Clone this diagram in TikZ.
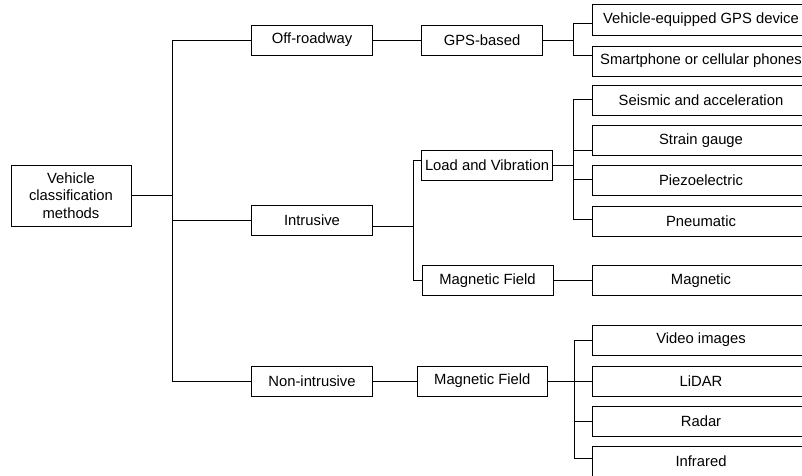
\documentclass[tikz,border=0pt]{standalone}
\usepackage{fontspec}
\setmainfont{Liberation Sans}
\usetikzlibrary{calc}

\begin{document}
\begin{tikzpicture}[x=1pt, y=-1pt, every node/.style={font=\fontsize{14.8}{17.5}\selectfont, align=center, inner sep=0pt},
  box/.style={draw, line width=0.9pt, minimum height=30pt},
  leaf/.style={box, minimum width=218pt},
  link/.style={line width=0.9pt}]
\useasboundingbox (0,0) rectangle (802,475);
\clip (0,0) rectangle (802,475);
% first levels
\node[box, minimum width=120pt, minimum height=61pt] (root) at (71,195.5) {Vehicle\\classification\\methods};
\node[box, minimum width=121pt] (off) at (312,40) {Off-roadway};
\node[box, minimum width=121pt] (intr) at (312,220) {Intrusive};
\node[box, minimum width=121pt] (nonintr) at (312,381) {Non-intrusive};
\node[box, minimum width=121pt] (gps) at (482,40) {GPS-based};
\node[box, minimum width=131pt] (lv) at (487,165.7) {Load and Vibration};
\node[box, minimum width=131pt] (mfi) at (487.5,280.7) {Magnetic Field};
\node[box, minimum width=130pt] (mfn) at (482.3,381) {Magnetic Field};
% sensor leaves
\node[leaf, minimum height=31pt] (veh) at (701,19.5) {Vehicle-equipped GPS device};
\node[leaf] (smart) at (701,61) {Smartphone or cellular phones};
\node[leaf] (seis) at (701,100) {Seismic and acceleration};
\node[leaf] (strain) at (701,140.5) {Strain gauge};
\node[leaf] (piezo) at (701,180) {Piezoelectric};
\node[leaf] (pneu) at (701,221) {Pneumatic};
\node[leaf] (mag) at (701,280.7) {Magnetic};
\node[leaf] (video) at (701,340) {Video images};
\node[leaf] (lidar) at (701,381) {LiDAR};
\node[leaf] (radar) at (701,421.5) {Radar};
\node[leaf] (infra) at (701,461) {Infrared};
% connectors
\draw[link] (root.east) -- ++(41,0) coordinate (trunk);
\foreach \n in {off,intr,nonintr}
  \draw[link] (trunk) |- (\n.west);
\draw[link] (off.east) -- (gps.west);
\draw[link] (gps.east) -- ++(30,0) coordinate (gbus);
\draw[link] (gbus) |- ($(veh.west)+(0,4)$);
\draw[link] (gbus) |- ($(smart.west)+(0,-6)$);
\draw[link] ($(intr.east)+(0,6)$) -- ++(40,0) coordinate (ibus);
\draw[link] (ibus) |- ($(lv.west)+(0,-5)$);
\draw[link] (ibus) |- (mfi.west);
\draw[link] (lv.east) -- ++(20,0) coordinate (lbus);
\foreach \n/\d in {seis/-1,strain/10,piezo/-1,pneu/-1.5}
  \draw[link] (lbus) |- ($(\n.west)+(0,\d)$);
\draw[link] (mfi.east) -- (mag.west);
\draw[link] (nonintr.east) -- (mfn.west);
\draw[link] (mfn.east) -- ++(27,0) coordinate (nbus);
\foreach \n/\d in {video/0,lidar/0,radar/0,infra/-3}
  \draw[link] (nbus) |- ($(\n.west)+(0,\d)$);
\end{tikzpicture}
\end{document}
